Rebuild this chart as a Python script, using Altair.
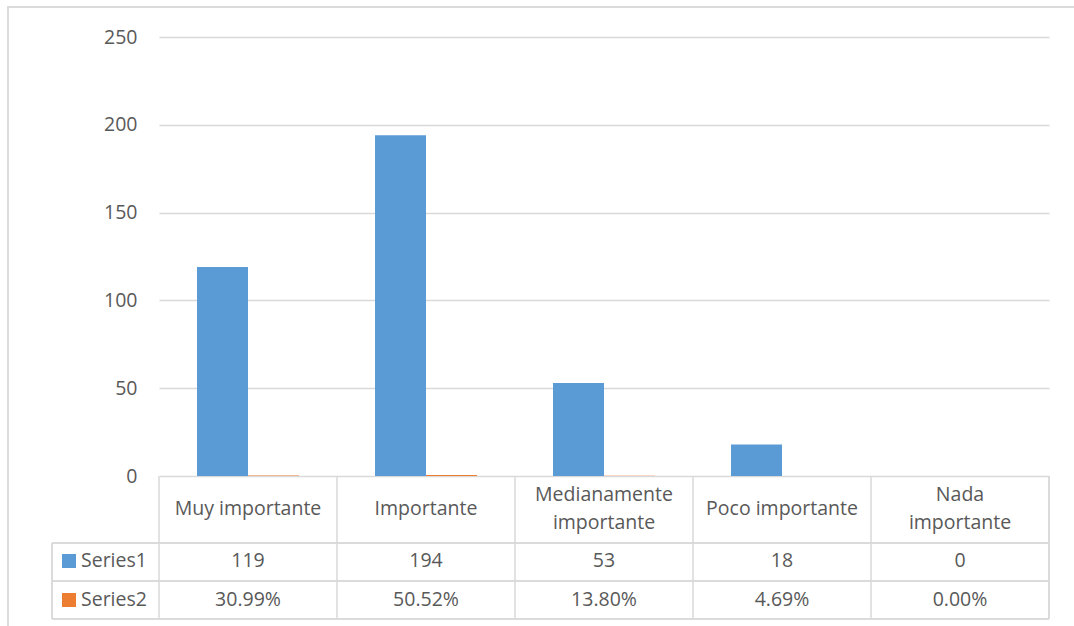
import altair as alt
import pandas as pd

# Categories and their header text (split over lines as in the data table)
categories = ["Muy importante", "Importante", "Medianamente importante",
              "Poco importante", "Nada importante"]
header_line1 = ["Muy importante", "Importante", "Medianamente", "Poco importante", "Nada"]
header_line2 = ["", "", "importante", "", "importante"]

# Series values
series_names = ["Series1", "Series2"]
series1 = [119, 194, 53, 18, 0]
series2_pct = [30.99, 50.52, 13.80, 4.69, 0.00]

series_colors = ["#5B9BD5", "#ED7D31"]
text_color = "#595959"
line_color = "#D9D9D9"
font = "Open Sans"
fs = 19.5

W, H = 890, 439

bars = pd.DataFrame(
    [{"category": c, "series": "Series1", "value": v} for c, v in zip(categories, series1)]
    + [{"category": c, "series": "Series2", "value": p / 100} for c, p in zip(categories, series2_pct)]
)
header = pd.DataFrame({"category": categories, "line1": header_line1, "line2": header_line2})
single = header[header["line2"] == ""]
double = header[header["line2"] != ""]
row1 = pd.DataFrame({"category": categories, "label": [str(v) for v in series1]})
row2 = pd.DataFrame({"category": categories, "label": [f"{p:.2f}%" for p in series2_pct]})
legend_rows = pd.DataFrame({"series": series_names})

x_scale = alt.Scale(domain=categories, paddingInner=0, paddingOuter=0)
color_scale = alt.Scale(domain=series_names, range=series_colors)
row_scale = alt.Scale(type="point", domain=series_names, range=[524, 563], padding=0)

x_enc = alt.X("category:N", scale=x_scale, axis=None, sort=categories)

bar_layer = alt.Chart(bars).mark_bar().encode(
    x=x_enc,
    xOffset=alt.XOffset("series:N", scale=alt.Scale(domain=series_names, paddingInner=0, paddingOuter=0.745)),
    y=alt.Y("value:Q", scale=alt.Scale(domain=[0, 250], nice=False),
            axis=alt.Axis(values=[0, 50, 100, 150, 200, 250], title=None)),
    color=alt.Color("series:N", scale=color_scale, legend=None),
)

# Outer chart frame
frame = alt.Chart(legend_rows).mark_rect(fill=None, stroke=line_color, strokeWidth=1.5).encode(
    x=alt.value(-151), x2=alt.value(W + 60), y=alt.value(-30), y2=alt.value(H + 200)
)

# Data table grid lines
table_rules = []
for yv in [506, 544, 582]:
    table_rules.append(
        alt.Chart(legend_rows).mark_rule(color=line_color, strokeWidth=1.5).encode(
            x=alt.value(-107), x2=alt.value(W), y=alt.value(yv)
        )
    )
table_rules.append(
    alt.Chart(legend_rows).mark_rule(color=line_color, strokeWidth=1.5).encode(
        x=alt.value(-107), y=alt.value(506), y2=alt.value(582)
    )
)
table_rules.append(
    alt.Chart(legend_rows).mark_rule(color=line_color, strokeWidth=1.5).encode(
        x=alt.value(W), y=alt.value(H), y2=alt.value(582)
    )
)
col_rules = alt.Chart(header).mark_rule(color=line_color, strokeWidth=1.5).encode(
    x=alt.X("category:N", scale=x_scale, axis=None, sort=categories, bandPosition=0),
    y=alt.value(H), y2=alt.value(582),
)

text_props = dict(font=font, fontSize=fs, color=text_color, align="center", baseline="middle")

header_single = alt.Chart(single).mark_text(**text_props).encode(
    x=x_enc, y=alt.value(472), text="line1:N"
)
header_top = alt.Chart(double).mark_text(**text_props).encode(
    x=x_enc, y=alt.value(458), text="line1:N"
)
header_bottom = alt.Chart(double).mark_text(**text_props).encode(
    x=x_enc, y=alt.value(486), text="line2:N"
)
row1_layer = alt.Chart(row1).mark_text(**text_props).encode(
    x=x_enc, y=alt.value(524), text="label:N"
)
row2_layer = alt.Chart(row2).mark_text(**text_props).encode(
    x=x_enc, y=alt.value(563), text="label:N"
)

# Legend keys inside the data table
legend_keys = alt.Chart(legend_rows).mark_square(size=196, opacity=1).encode(
    x=alt.value(-90),
    y=alt.Y("series:N", scale=row_scale, axis=None),
    color=alt.Color("series:N", scale=color_scale, legend=None),
)
legend_labels = alt.Chart(legend_rows).mark_text(
    font=font, fontSize=fs, color=text_color, align="left", baseline="middle"
).encode(
    x=alt.value(-78),
    y=alt.Y("series:N", scale=row_scale, axis=None),
    text="series:N",
)

chart = alt.layer(
    frame, bar_layer, *table_rules, col_rules,
    header_single, header_top, header_bottom, row1_layer, row2_layer,
    legend_keys, legend_labels
).resolve_scale(y="independent").properties(
    width=W, height=H,
    autosize=alt.AutoSizeParams(type="none"),
    padding={"left": 159, "top": 37, "right": 25, "bottom": 150},
    background="white",
).configure_view(stroke=None).configure_axis(
    labelFont=font, labelFontSize=fs, labelColor=text_color,
    domain=False, ticks=False, labelPadding=22,
    gridColor=line_color, gridWidth=1.5,
)

chart.save("out.html", embed_options={"renderer": "svg", "actions": False})
